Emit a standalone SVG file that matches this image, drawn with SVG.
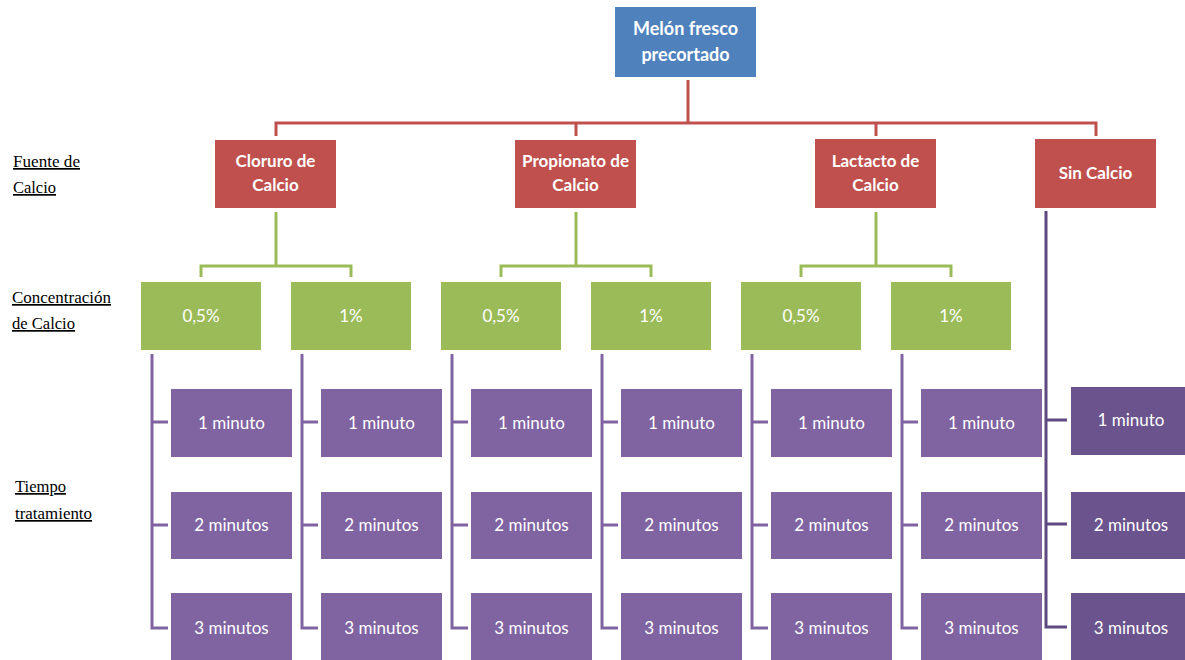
<svg xmlns="http://www.w3.org/2000/svg" width="1185" height="660" viewBox="0 0 1185 660">
<style>
.lbl{font-family:"Liberation Serif","Times New Roman",serif;font-size:17px;fill:#000;text-decoration:underline}
.t{font-family:Lato,"Liberation Sans",sans-serif;fill:#fff;text-anchor:middle}
.b{font-weight:bold;font-size:17px}
.r{font-size:17px}
.blue{fill:#4F81BD}
.red{fill:#C0504D}
.green{fill:#9BBB59}
.purple{fill:#8064A2}
.dpurple{fill:#6B548D}
.cn{fill:none;stroke-width:3}
.cr{stroke:#C0504D}
.cg{stroke:#9BBB59}
.cp{stroke:#8064A2}
.cd{stroke:#5F4A80}
</style>
<rect width="1185" height="660" fill="#fff"/>
<g id="labels" font-family="Liberation Serif, serif">
<text class="lbl" x="13" y="167" textLength="67" lengthAdjust="spacingAndGlyphs">Fuente de</text>
<text class="lbl" x="13" y="193" textLength="43" lengthAdjust="spacingAndGlyphs">Calcio</text>
<text class="lbl" x="12" y="303" textLength="99" lengthAdjust="spacingAndGlyphs">Concentración</text>
<text class="lbl" x="12" y="329" textLength="63" lengthAdjust="spacingAndGlyphs">de Calcio</text>
<text class="lbl" x="15" y="492" textLength="51" lengthAdjust="spacingAndGlyphs">Tiempo</text>
<text class="lbl" x="15" y="519" textLength="77" lengthAdjust="spacingAndGlyphs">tratamiento</text>
</g>
<g id="connectors">
<path class="cn cr" d="M688 80V123M276 136V123H1096V136M576 123V136M876 123V136"/>
<path class="cn cg" d="M276 212V266M201 277V266H351V277"/>
<path class="cn cg" d="M576 212V266M501 277V266H651V277"/>
<path class="cn cg" d="M876 212V266M801 277V266H951V277"/>
<path class="cn cp" d="M152 354V628H168M152 422H168M152 525H168"/>
<path class="cn cp" d="M302 354V628H318M302 422H318M302 525H318"/>
<path class="cn cp" d="M452 354V628H468M452 422H468M452 525H468"/>
<path class="cn cp" d="M602 354V628H618M602 422H618M602 525H618"/>
<path class="cn cp" d="M752 354V628H768M752 422H768M752 525H768"/>
<path class="cn cp" d="M902 354V628H918M902 422H918M902 525H918"/>
<path class="cn cd" d="M1046 211V627H1067M1046 420H1067M1046 524H1067"/>
</g>
<g id="n-melon"><rect class="blue" x="615" y="7" width="141" height="70"/><text class="t b" x="685.5" y="35" style="font-size:18px">Melón fresco</text><text class="t b" x="685.5" y="61" style="font-size:18px">precortado</text></g>
<g id="n-cloruro"><rect class="red" x="215" y="140" width="121" height="68"/><text class="t b" x="275.5" y="167">Cloruro de</text><text class="t b" x="275.5" y="191">Calcio</text></g>
<g id="n-propionato"><rect class="red" x="515" y="140" width="121" height="68"/><text class="t b" x="575.5" y="167">Propionato de</text><text class="t b" x="575.5" y="191">Calcio</text></g>
<g id="n-lactacto"><rect class="red" x="815" y="139" width="121" height="69"/><text class="t b" x="875.5" y="167">Lactacto de</text><text class="t b" x="875.5" y="191">Calcio</text></g>
<g id="n-sincalcio"><rect class="red" x="1035" y="139" width="121" height="69"/><text class="t b" x="1095.5" y="179">Sin Calcio</text></g>
<g id="n-c1a"><rect class="green" x="141" y="282" width="120" height="68"/><text class="t r" x="201" y="322">0,5%</text></g>
<g id="n-c1b"><rect class="green" x="291" y="282" width="120" height="68"/><text class="t r" x="351" y="322">1%</text></g>
<g id="n-c2a"><rect class="green" x="441" y="282" width="120" height="68"/><text class="t r" x="501" y="322">0,5%</text></g>
<g id="n-c2b"><rect class="green" x="591" y="282" width="120" height="68"/><text class="t r" x="651" y="322">1%</text></g>
<g id="n-c3a"><rect class="green" x="741" y="282" width="120" height="68"/><text class="t r" x="801" y="322">0,5%</text></g>
<g id="n-c3b"><rect class="green" x="891" y="282" width="120" height="68"/><text class="t r" x="951" y="322">1%</text></g>
<g id="n-t1a1"><rect class="purple" x="171" y="389" width="121" height="68"/><text class="t r" x="231.5" y="429">1 minuto</text></g>
<g id="n-t1a2"><rect class="purple" x="171" y="492" width="121" height="67"/><text class="t r" x="231.5" y="531">2 minutos</text></g>
<g id="n-t1a3"><rect class="purple" x="171" y="593" width="121" height="68"/><text class="t r" x="231.5" y="634">3 minutos</text></g>
<g id="n-t1b1"><rect class="purple" x="321" y="389" width="121" height="68"/><text class="t r" x="381.5" y="429">1 minuto</text></g>
<g id="n-t1b2"><rect class="purple" x="321" y="492" width="121" height="67"/><text class="t r" x="381.5" y="531">2 minutos</text></g>
<g id="n-t1b3"><rect class="purple" x="321" y="593" width="121" height="68"/><text class="t r" x="381.5" y="634">3 minutos</text></g>
<g id="n-t2a1"><rect class="purple" x="471" y="389" width="121" height="68"/><text class="t r" x="531.5" y="429">1 minuto</text></g>
<g id="n-t2a2"><rect class="purple" x="471" y="492" width="121" height="67"/><text class="t r" x="531.5" y="531">2 minutos</text></g>
<g id="n-t2a3"><rect class="purple" x="471" y="593" width="121" height="68"/><text class="t r" x="531.5" y="634">3 minutos</text></g>
<g id="n-t2b1"><rect class="purple" x="621" y="389" width="121" height="68"/><text class="t r" x="681.5" y="429">1 minuto</text></g>
<g id="n-t2b2"><rect class="purple" x="621" y="492" width="121" height="67"/><text class="t r" x="681.5" y="531">2 minutos</text></g>
<g id="n-t2b3"><rect class="purple" x="621" y="593" width="121" height="68"/><text class="t r" x="681.5" y="634">3 minutos</text></g>
<g id="n-t3a1"><rect class="purple" x="771" y="389" width="121" height="68"/><text class="t r" x="831.5" y="429">1 minuto</text></g>
<g id="n-t3a2"><rect class="purple" x="771" y="492" width="121" height="67"/><text class="t r" x="831.5" y="531">2 minutos</text></g>
<g id="n-t3a3"><rect class="purple" x="771" y="593" width="121" height="68"/><text class="t r" x="831.5" y="634">3 minutos</text></g>
<g id="n-t3b1"><rect class="purple" x="921" y="389" width="121" height="68"/><text class="t r" x="981.5" y="429">1 minuto</text></g>
<g id="n-t3b2"><rect class="purple" x="921" y="492" width="121" height="67"/><text class="t r" x="981.5" y="531">2 minutos</text></g>
<g id="n-t3b3"><rect class="purple" x="921" y="593" width="121" height="68"/><text class="t r" x="981.5" y="634">3 minutos</text></g>
<g id="n-t4-1"><rect class="dpurple" x="1071" y="387" width="121" height="68"/><text class="t r" x="1131" y="426">1 minuto</text></g>
<g id="n-t4-2"><rect class="dpurple" x="1071" y="492" width="121" height="67"/><text class="t r" x="1131" y="531">2 minutos</text></g>
<g id="n-t4-3"><rect class="dpurple" x="1071" y="593" width="121" height="68"/><text class="t r" x="1131" y="634">3 minutos</text></g>
</svg>
